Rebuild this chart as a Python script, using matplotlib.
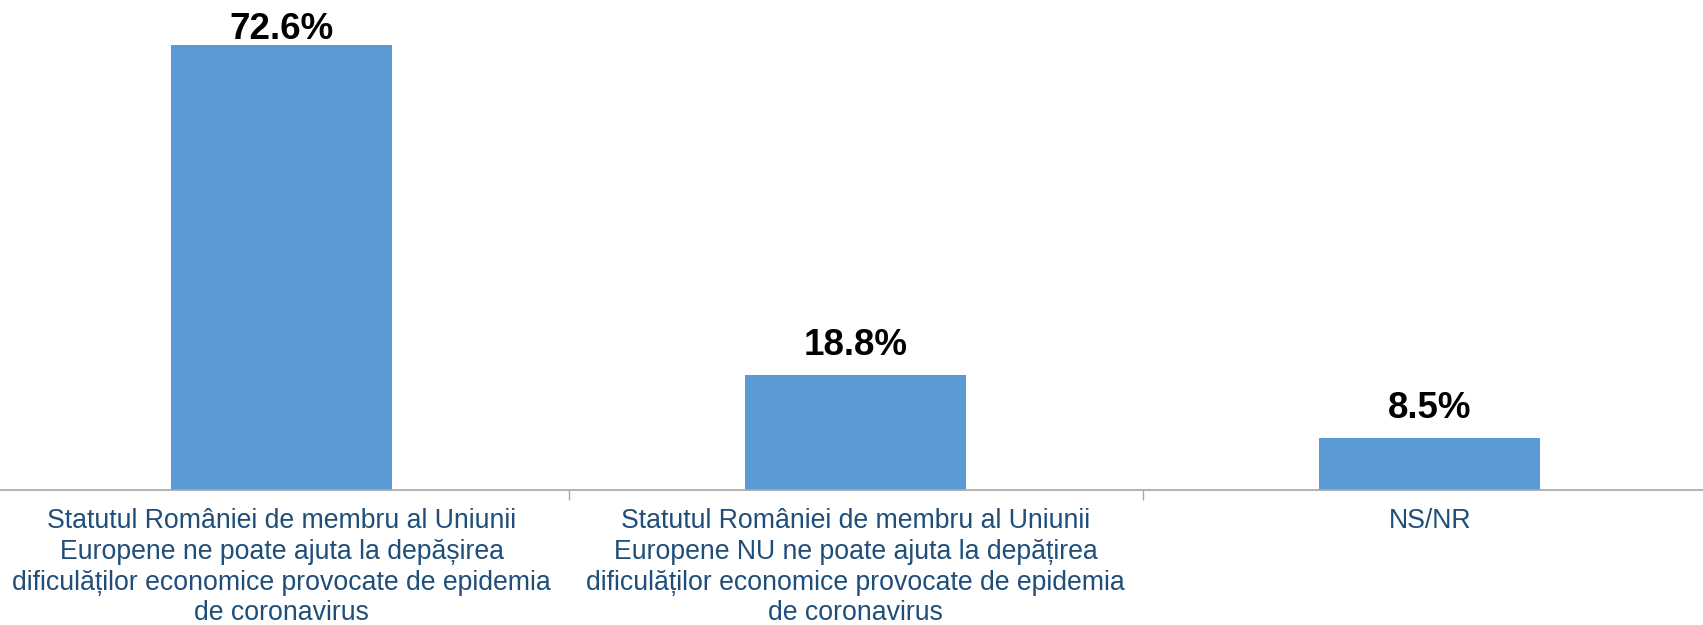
import matplotlib.pyplot as plt
import numpy as np

plt.rcParams['font.family'] = ['Liberation Sans', 'DejaVu Sans']

categories = [
    'Statutul României de membru al Uniunii\nEuropene ne poate ajuta la depășirea\ndificulăților economice provocate de epidemia\nde coronavirus',
    'Statutul României de membru al Uniunii\nEuropene NU ne poate ajuta la depățirea\ndificulăților economice provocate de epidemia\nde coronavirus',
    'NS/NR',
]
values = [72.6, 18.8, 8.5]
labels = ['72.6%', '18.8%', '8.5%']

fig = plt.figure(figsize=(17.03, 6.25), dpi=100)
ax = fig.add_axes([0, 0.216, 1, 0.784])

x = np.arange(len(values))
bars = ax.bar(x, values, width=0.385, color='#5B9BD5', zorder=2)

ymax = 80
for b, lab in zip(bars, labels):
    # label sits above the bar, but is kept inside the plot area
    ytxt = min(b.get_height() + 3.3, ymax - 6.4)
    ax.text(b.get_x() + b.get_width() / 2, ytxt, lab,
            ha='center', va='baseline', fontsize=26.5, fontweight='bold', color='black')

ax.set_ylim(0, ymax)
ax.set_xlim(-0.491, 2.476)
ax.set_yticks([])
for s in ['top', 'right', 'left']:
    ax.spines[s].set_visible(False)
ax.spines['bottom'].set_color('#A6A6A6')
ax.spines['bottom'].set_linewidth(1.2)

ax.set_xticks(x)
ax.set_xticklabels(categories, fontsize=19.2, color='#1F4E79', linespacing=1.24)
ax.tick_params(axis='x', which='major', length=0, pad=13)
ax.set_xticks([0.5, 1.5], minor=True)
ax.tick_params(axis='x', which='minor', length=7, color='#A6A6A6', width=1)

fig.savefig('out.png', dpi=100)
